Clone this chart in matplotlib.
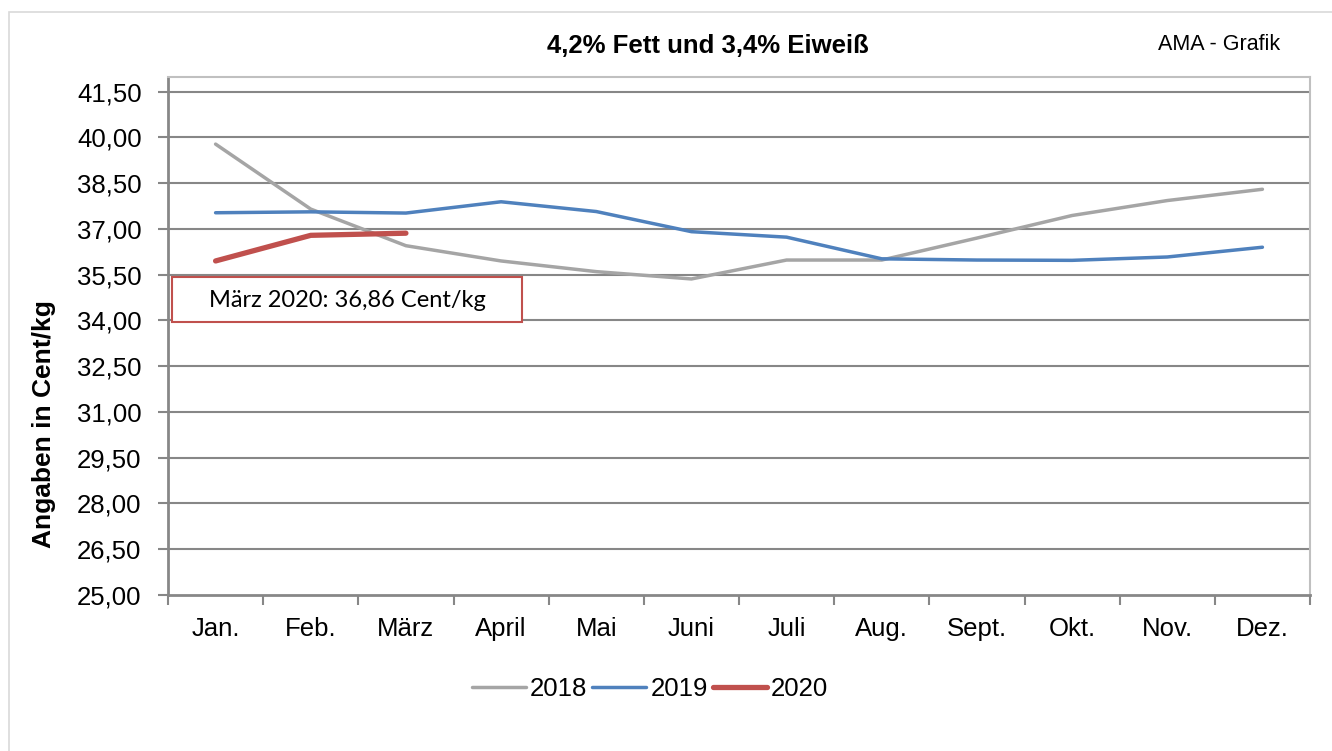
import numpy as np
import matplotlib
matplotlib.use("Agg")
from matplotlib import pyplot as plt
from matplotlib.patches import Rectangle

plt.rcParams['font.family'] = ['Liberation Sans', 'DejaVu Sans']

months = ["Jan.", "Feb.", "März", "April", "Mai", "Juni", "Juli", "Aug.", "Sept.", "Okt.", "Nov.", "Dez."]
vals_2018 = [39.78, 37.65, 36.45, 35.95, 35.60, 35.36, 35.98, 35.98, 36.70, 37.44, 37.93, 38.30]
vals_2019 = [37.53, 37.56, 37.52, 37.89, 37.57, 36.91, 36.73, 36.02, 35.98, 35.97, 36.08, 36.40]
vals_2020 = [35.95, 36.79, 36.86]
yticks = [25.0, 26.5, 28.0, 29.5, 31.0, 32.5, 34.0, 35.5, 37.0, 38.5, 40.0, 41.5]

fig = plt.figure(figsize=(13.32, 7.51), dpi=100)
ax = fig.add_axes([168/1332, 1-595/751, (1310-168)/1332, (595-77)/751])

# outer chart frame
fig.patches.append(Rectangle((9/1332, -0.1), 1.2, 1.1 - 12/751, transform=fig.transFigure,
                             fill=False, edgecolor='#D9D9D9', lw=1.2))

x = np.arange(len(months))
ax.plot(x, vals_2018, color='#A5A5A5', lw=2.5, label='2018', solid_capstyle='round', zorder=3)
ax.plot(x, vals_2019, color='#4F81BD', lw=2.5, label='2019', solid_capstyle='round', zorder=3)
ax.plot(x[:len(vals_2020)], vals_2020, color='#C0504D', lw=3.8, label='2020', solid_capstyle='round', zorder=4)

ax.set_xlim(-0.5, len(months) - 0.5)
ax.set_ylim(25, 41.98)
ax.set_yticks(yticks)
ax.set_yticklabels([("%.2f" % v).replace('.', ',') for v in yticks], fontsize=18.5)
for v in yticks[1:]:
    ax.axhline(v, color='#878787', lw=1.5, zorder=1)

ax.set_xticks(x)
ax.set_xticklabels(months, fontsize=18.5)
ax.set_xticks(np.arange(-0.5, len(months)), minor=True)
ax.tick_params(axis='x', which='major', length=0, pad=16)
ax.tick_params(axis='x', which='minor', length=7, width=1.5, color='#878787')
ax.tick_params(axis='y', length=7, width=1.5, color='#878787', pad=12)

for s in ['left', 'bottom']:
    ax.spines[s].set_color('#878787')
    ax.spines[s].set_linewidth(2)
for s in ['top', 'right']:
    ax.spines[s].set_color('#C0C0C0')
    ax.spines[s].set_linewidth(1.5)

ax.set_ylabel('Angaben in Cent/kg', fontsize=19, fontweight='bold')
ax.yaxis.set_label_coords(-0.098, 0.33)

# data label box
ax.add_patch(Rectangle((0.0035, 0.527), 0.3065, 0.087, transform=ax.transAxes,
                       fill=True, facecolor='white', edgecolor='#C0504D', lw=1.5, zorder=5))
ax.text(0.157, 0.568, 'März 2020: 36,86 Cent/kg', transform=ax.transAxes, ha='center', va='center',
        fontsize=17, family=['Lato', 'DejaVu Sans'], zorder=6)

fig.text(708/1332, 1-46/751, '4,2% Fett und 3,4% Eiweiß', ha='center', va='center',
         fontsize=18.5, fontweight='bold')
fig.text(1219/1332, 1-44/751, 'AMA - Grafik', ha='center', va='center', fontsize=15.5)

fig.legend(loc='center', bbox_to_anchor=(650/1332, 1-689/751), ncol=3, frameon=False,
           fontsize=18.5, handlelength=2.1, handletextpad=0.15, columnspacing=0.2)

fig.savefig('out.png', dpi=100)
